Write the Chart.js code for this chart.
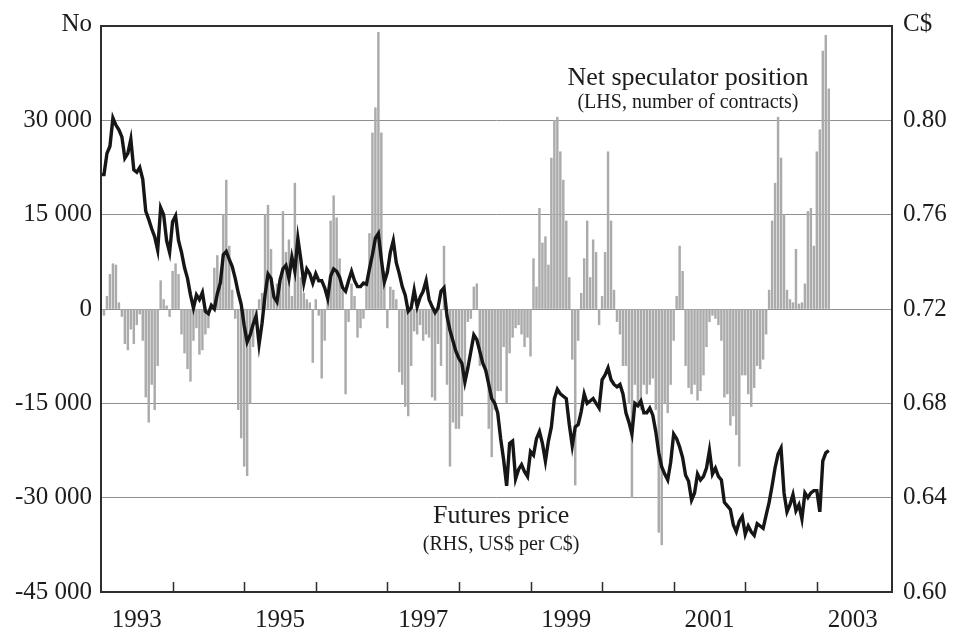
<!DOCTYPE html>
<html>
<head>
<meta charset="utf-8">
<title>Canadian dollar: futures price and net speculator position</title>
<script src="https://cdn.jsdelivr.net/npm/chart.js@4.4.1/dist/chart.umd.min.js"></script>
<style>
  html, body { margin: 0; padding: 0; background: #fff; }
  canvas { display: block; }
</style>
</head>
<body>
<canvas id="chart" width="953" height="633"></canvas>
<script>
// semi-monthly observations starting January 1993
const startYear = 1993;
const perYear = 24;

// futures price (RHS, US$ per C$)
const price = [
  0.777, 0.777, 0.786, 0.789, 0.801, 0.798, 0.796, 0.793, 0.784, 0.786,
  0.792, 0.779, 0.778, 0.780, 0.775, 0.7615, 0.758, 0.754, 0.7506, 0.745,
  0.763, 0.760, 0.749, 0.744, 0.757, 0.7595, 0.749, 0.744, 0.7376, 0.733,
  0.726, 0.7204, 0.726, 0.724, 0.727, 0.719, 0.718, 0.7215, 0.720, 0.7265,
  0.731, 0.743, 0.7444, 0.741, 0.738, 0.733, 0.727, 0.722, 0.713, 0.706,
  0.709, 0.7135, 0.717, 0.705, 0.714, 0.726, 0.7348, 0.733, 0.725, 0.723,
  0.732, 0.737, 0.7385, 0.733, 0.742, 0.736, 0.750, 0.741, 0.731, 0.737,
  0.735, 0.731, 0.735, 0.732, 0.732, 0.729, 0.7245, 0.734, 0.737, 0.736,
  0.7335, 0.729, 0.7275, 0.732, 0.736, 0.732, 0.7295, 0.7295, 0.731, 0.7305,
  0.737, 0.743, 0.750, 0.752, 0.741, 0.7314, 0.7355, 0.744, 0.749, 0.7396,
  0.735, 0.7295, 0.7259, 0.719, 0.7205, 0.728, 0.721, 0.725, 0.7275, 0.732,
  0.724, 0.721, 0.7185, 0.7205, 0.7275, 0.729, 0.717, 0.711, 0.7065, 0.702,
  0.699, 0.697, 0.689, 0.695, 0.702, 0.709, 0.707, 0.702, 0.697, 0.694,
  0.688, 0.682, 0.680, 0.676, 0.665, 0.656, 0.645, 0.663, 0.664, 0.648,
  0.652, 0.654, 0.651, 0.649, 0.6595, 0.658, 0.665, 0.668, 0.663, 0.6555,
  0.664, 0.670, 0.682, 0.686, 0.684, 0.683, 0.682, 0.671, 0.662, 0.670,
  0.671, 0.6765, 0.684, 0.680, 0.681, 0.682, 0.680, 0.678, 0.690, 0.692,
  0.695, 0.690, 0.688, 0.687, 0.688, 0.684, 0.676, 0.672, 0.667, 0.680,
  0.679, 0.681, 0.676, 0.676, 0.678, 0.675, 0.668, 0.659, 0.653, 0.650,
  0.6475, 0.655, 0.667, 0.665, 0.6615, 0.657, 0.6495, 0.647, 0.639, 0.642,
  0.650, 0.6475, 0.649, 0.6525, 0.660, 0.650, 0.6525, 0.649, 0.6475, 0.638,
  0.6365, 0.635, 0.6285, 0.6256, 0.630, 0.632, 0.6245, 0.628, 0.6255, 0.624,
  0.629, 0.628, 0.627, 0.6326, 0.638, 0.645, 0.6527, 0.6585, 0.661, 0.642,
  0.634, 0.637, 0.6413, 0.6345, 0.637, 0.631, 0.642, 0.640, 0.642, 0.643,
  0.643, 0.634, 0.6556, 0.659, 0.660
];

// net speculator position (LHS, thousands of contracts)
const netPosition = [
  -0.5, -1, 2, 5.5, 7.2, 7, 1, -1.2, -5.5, -6.5,
  -3.2, -5.5, -2.5, -0.8, -5, -14, -18, -12, -16, -9,
  4.5, 1.5, 0.5, -1.2, 6, 7.2, 5.5, -4, -7, -9.5,
  -11.5, -5, -3, -7.2, -6.5, -4, -3, 0.8, 6.5, 8.5,
  3.5, 15, 20.5, 10, 3, -1.5, -16, -20.5, -25, -26.5,
  -15, -6, -1, 1.5, 2.5, 15, 16.5, 9.5, 2, 4,
  5, 15.5, 9, 11, 2, 20, 10.5, 5, 2.5, 1.5,
  1, -8.5, 1.5, -1, -11, -5, 1.5, 14, 18, 14.5,
  8, 3, -13.5, -2, 4, 2, -4.5, -3, -1.5, 4,
  12, 28, 32, 44, 28, 6, -3, 3.5, 3, 1.5,
  -10, -12, -15.5, -17, -9, -3.5, -4, -2.5, -5, -4,
  -4.5, -14, -14.5, -5.5, -9, 10, -12, -25, -18, -19,
  -19, -17, -11, -2, -1.5, 3.5, 4, -9, -8.5, -10,
  -19, -23.5, -16, -13, -13, -6, -15, -7, -4.5, -3,
  -2.5, -4, -6, -4.5, -7.5, 8, 3.5, 16, 10.5, 11.5,
  7, 24, 30, 30.5, 25, 20.5, 14, 5, -8, -28,
  -5, 2.5, 8, 14, 5, 11, 9, -2.5, 2, 9,
  25, 14, 3, -2, -4, -9, -9, -15, -30, -12,
  -15, -16, -12, -13.5, -12, -11, -16, -35.5, -37.5, -15,
  -16.5, -12, -5, 2, 10, 6, -9, -12.5, -13.5, -12,
  -14.5, -13, -10.5, -6, -2, -1, -1.5, -2.5, -5, -14,
  -13.5, -18.5, -17, -20, -25, -10.5, -10.5, -13.5, -15.5, -12.5,
  -9, -9.5, -8, -4, 3, 14, 20, 30.5, 24, 15,
  3, 1.5, 1, 9.5, 0.8, 1, 4, 15.5, 16, 10,
  25, 28.5, 41, 43.5, 35
];

// axis ticks and labels
const labelYears = [1993, 1995, 1997, 1999, 2001, 2003];
const tickYears = [1994, 1995, 1996, 1997, 1998, 1999, 2000, 2001, 2002, 2003];
const notes = [
  { text: 'Net speculator position', size: 26, x: 2001.2, y: 35.6 },
  { text: '(LHS, number of contracts)', size: 20, x: 2001.2, y: 31.9 },
  { text: 'Futures price', size: 26, x: 1998.59, y: -34.1 },
  { text: '(RHS, US$ per C$)', size: 20, x: 1998.59, y: -38.3 }
];

const serif = '"Liberation Serif", "Times New Roman", serif';
const ink = '#1c1c1c';

function fmt(n) {
  const s = Math.abs(Math.round(n)).toString().replace(/\B(?=(\d{3})+(?!\d))/g, ' ');
  return (n < 0 ? '-' : '') + s;
}

const toPoints = arr => arr.map((v, i) => ({ x: startYear + i / perYear, y: v }));

// frame, year ticks, units and text labels
const decor = {
  id: 'decor',
  afterDraw(chart) {
    const { ctx, chartArea: a, scales } = chart;
    ctx.save();
    ctx.strokeStyle = '#2e2e2e';
    ctx.lineWidth = 2;
    ctx.strokeRect(a.left, a.top, a.right - a.left, a.bottom - a.top);

    ctx.lineWidth = 1.5;
    ctx.beginPath();
    tickYears.forEach(yr => {
      const x = Math.round(scales.x.getPixelForValue(yr)) + 0.5;
      ctx.moveTo(x, a.bottom);
      ctx.lineTo(x, a.bottom - 10);
    });
    ctx.stroke();

    ctx.fillStyle = ink;
    ctx.font = '25px ' + serif;
    ctx.textBaseline = 'middle';
    ctx.textAlign = 'right';
    ctx.fillText('No', a.left - 9, 24);
    ctx.textAlign = 'left';
    ctx.fillText('C$', a.right + 11, 24);

    ctx.textAlign = 'center';
    ctx.textBaseline = 'alphabetic';
    notes.forEach(n => {
      ctx.font = n.size + 'px ' + serif;
      ctx.fillText(n.text, scales.x.getPixelForValue(n.x), scales.y.getPixelForValue(n.y));
    });
    ctx.restore();
  }
};

const ctx = document.getElementById('chart').getContext('2d');

new Chart(ctx, {
  type: 'bar',
  data: {
    datasets: [
      {
        type: 'line',
        label: 'Futures price',
        data: toPoints(price),
        yAxisID: 'y2',
        borderColor: '#161616',
        borderWidth: 3.4,
        pointRadius: 0,
        tension: 0,
        order: 0
      },
      {
        type: 'bar',
        label: 'Net speculator position',
        data: toPoints(netPosition),
        yAxisID: 'y',
        backgroundColor: '#ababab',
        barThickness: 1.8,
        order: 1
      }
    ]
  },
  options: {
    responsive: false,
    animation: false,
    devicePixelRatio: 1,
    layout: { padding: { top: 10, left: 0, right: 0, bottom: 0 } },
    plugins: { legend: { display: false }, tooltip: { enabled: false } },
    scales: {
      x: {
        type: 'linear',
        min: 1993,
        max: 2004.05,
        offset: false,
        grid: { display: false },
        border: { display: false },
        afterBuildTicks: s => { s.ticks = labelYears.map(y => ({ value: y + 0.5 })); },
        ticks: {
          callback: v => String(Math.floor(v)),
          font: { family: serif, size: 25 },
          color: ink,
          padding: 5,
          maxRotation: 0,
          autoSkip: false
        },
        afterFit: s => { s.height = 41; }
      },
      y: {
        position: 'left',
        min: -45,
        max: 45,
        ticks: {
          stepSize: 15,
          callback: v => (v >= 44.9 ? null : fmt(v * 1000)),
          font: { family: serif, size: 25 },
          color: ink,
          padding: 9
        },
        grid: { color: '#8f8f8f', lineWidth: 1, drawTicks: false },
        border: { display: false },
        afterFit: s => { s.width = 101; }
      },
      y2: {
        position: 'right',
        min: 0.6,
        max: 0.84,
        ticks: {
          stepSize: 0.04,
          callback: v => (v > 0.835 ? null : v.toFixed(2)),
          font: { family: serif, size: 25 },
          color: ink,
          padding: 11
        },
        grid: { display: false, drawTicks: false },
        border: { display: false },
        afterFit: s => { s.width = 61; }
      }
    }
  },
  plugins: [decor]
});
</script>
</body>
</html>
